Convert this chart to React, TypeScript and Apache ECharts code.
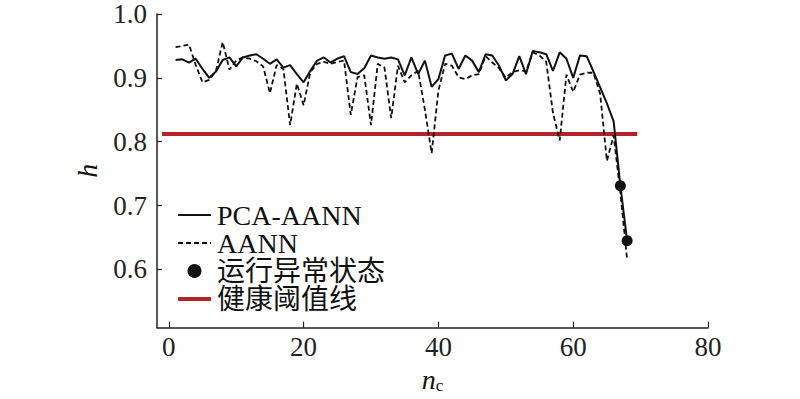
import React, { useEffect, useRef } from "react";
import * as echarts from "echarts";

const nValues: number[] = Array.from({ length: 68 }, (_, i) => i + 1);

const pcaAann: number[] = [
  0.928, 0.929, 0.924, 0.93, 0.914, 0.9, 0.91, 0.928, 0.932, 0.918,
  0.932, 0.935, 0.937, 0.93, 0.922, 0.929, 0.916, 0.92, 0.906, 0.893,
  0.911, 0.927, 0.932, 0.924, 0.93, 0.934, 0.909, 0.906, 0.915, 0.935,
  0.932, 0.93, 0.932, 0.929, 0.904, 0.932, 0.906, 0.927, 0.886, 0.898,
  0.935, 0.938, 0.914, 0.935, 0.927, 0.909, 0.937, 0.935, 0.919, 0.896,
  0.906, 0.934, 0.906, 0.942, 0.94, 0.937, 0.911, 0.94, 0.93, 0.9,
  0.935, 0.934, 0.91, 0.885, 0.86, 0.832, 0.731, 0.645,
];

const aann: number[] = [
  0.948, 0.95, 0.952, 0.92, 0.893, 0.897, 0.911, 0.956, 0.913, 0.927,
  0.932, 0.93, 0.926, 0.918, 0.876, 0.92, 0.914, 0.826, 0.891, 0.857,
  0.909, 0.922, 0.925, 0.922, 0.925, 0.927, 0.842, 0.901, 0.904, 0.826,
  0.922, 0.916, 0.837, 0.919, 0.893, 0.904, 0.911, 0.85, 0.782, 0.88,
  0.922, 0.919, 0.901, 0.898, 0.904, 0.906, 0.934, 0.924, 0.915, 0.9,
  0.909, 0.912, 0.91, 0.94, 0.935, 0.925, 0.845, 0.802, 0.905, 0.878,
  0.905, 0.908, 0.908, 0.875, 0.77, 0.81, 0.72, 0.615,
];

const abnormalN: number[] = [67, 68];
const abnormalH: number[] = [0.731, 0.645];

const thresholdN: number[] = [-1, 69.5];
const thresholdH = 0.812;

const xTicks: number[] = [0, 20, 40, 60, 80];
const yTicks: number[] = [0.6, 0.7, 0.8, 0.9, 1.0];

const seriesNames = ["PCA-AANN", "AANN", "运行异常状态", "健康阈值线"];

const FONT = '"Liberation Serif", "Noto Sans CJK SC", serif';

export default function App() {
  const ref = useRef<HTMLDivElement>(null);

  useEffect(() => {
    if (!ref.current) return;
    const chart = echarts.init(ref.current, undefined, { renderer: "svg" });
    const hiddenSymbol = { opacity: 0, color: "rgba(0,0,0,0)", borderWidth: 0 };
    const option: any = {
      animation: false,
      backgroundColor: "#ffffff",
      grid: { left: 157, right: 92, top: 14, bottom: 66 },
      legend: {
        orient: "vertical",
        left: 171,
        top: 196,
        itemWidth: 33,
        itemHeight: 14,
        itemGap: 0,
        data: [
          { name: seriesNames[0], itemStyle: hiddenSymbol, lineStyle: { width: 2.2 } },
          { name: seriesNames[1], itemStyle: hiddenSymbol, lineStyle: { width: 2 } },
          { name: seriesNames[2], icon: "circle", itemStyle: { color: "#111", opacity: 1 } },
          { name: seriesNames[3], itemStyle: hiddenSymbol, lineStyle: { width: 4 } },
        ],
        textStyle: {
          fontFamily: FONT,
          fontSize: 28,
          lineHeight: 28,
          color: "#111",
          padding: [0, 0, 0, 1],
        },
        selectedMode: false,
      },
      xAxis: {
        type: "value",
        min: -1.75,
        max: 80,
        name: "{n|n}{c|c}",
        nameLocation: "middle",
        nameGap: 32,
        nameTextStyle: {
          rich: {
            n: { fontFamily: FONT, fontStyle: "italic", fontSize: 28, color: "#111" },
            c: { fontFamily: FONT, fontSize: 17, color: "#111", verticalAlign: "bottom", padding: [12, 0, 0, 0] },
          },
        },
        splitLine: { show: false },
        axisLine: { show: true, onZero: false, lineStyle: { color: "#222", width: 1.5 } },
        axisTick: { show: true, inside: true, length: 6, customValues: xTicks, lineStyle: { color: "#222", width: 1.2 } },
        axisLabel: {
          customValues: xTicks,
          fontFamily: FONT,
          fontSize: 27,
          color: "#222",
          margin: 6,
          formatter: (v: number) => String(Math.round(v)),
        },
      },
      yAxis: {
        type: "value",
        min: 0.509,
        max: 1.0,
        name: "h",
        nameLocation: "middle",
        nameGap: 56,
        nameRotate: 90,
        nameTextStyle: { fontFamily: FONT, fontStyle: "italic", fontSize: 28, color: "#111" },
        splitLine: { show: false },
        axisLine: { show: true, onZero: false, lineStyle: { color: "#222", width: 1.5 } },
        axisTick: { show: true, inside: true, length: 5, customValues: yTicks, lineStyle: { color: "#222", width: 1.2 } },
        axisLabel: {
          customValues: yTicks,
          fontFamily: FONT,
          fontSize: 27,
          color: "#222",
          margin: 10,
          formatter: (v: number) => v.toFixed(1),
        },
      },
      series: [
        {
          name: seriesNames[0],
          type: "line",
          symbol: "none",
          data: nValues.map((n, i) => [n, pcaAann[i]]),
          lineStyle: { color: "#111", width: 2 },
          itemStyle: { color: "#111" },
          z: 4,
        },
        {
          name: seriesNames[1],
          type: "line",
          symbol: "none",
          data: nValues.map((n, i) => [n, aann[i]]),
          lineStyle: { color: "#111", width: 1.8, type: [5, 3] },
          itemStyle: { color: "#111" },
          z: 3,
        },
        {
          name: seriesNames[2],
          type: "scatter",
          symbol: "circle",
          symbolSize: 11,
          data: abnormalN.map((n, i) => [n, abnormalH[i]]),
          itemStyle: { color: "#111", opacity: 1 },
          z: 5,
        },
        {
          name: seriesNames[3],
          type: "line",
          symbol: "none",
          data: thresholdN.map((n) => [n, thresholdH]),
          lineStyle: { color: "#b3242a", width: 4 },
          itemStyle: { color: "#b3242a" },
          z: 2,
        },
      ],
    };
    chart.setOption(option);
    return () => chart.dispose();
  }, []);

  return <div ref={ref} style={{ width: 800, height: 399, position: "absolute", left: 0, top: 0 }} />;
}
